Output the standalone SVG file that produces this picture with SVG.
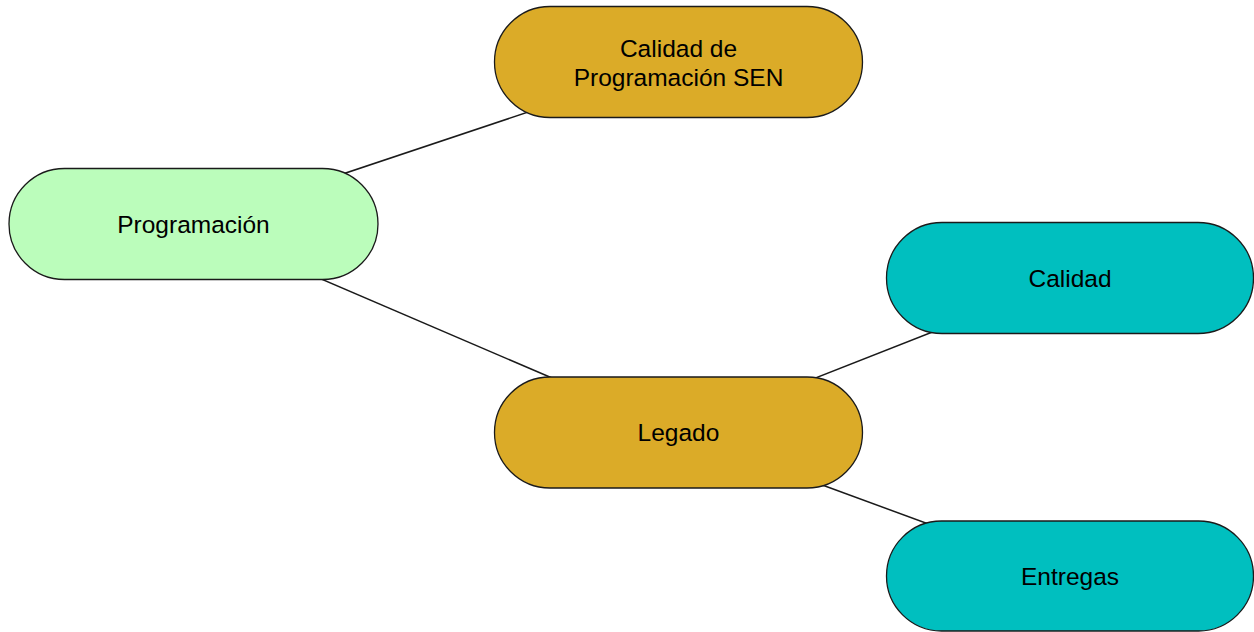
<svg xmlns="http://www.w3.org/2000/svg" width="1254" height="632" viewBox="0 0 1254 632">
<style>
.node rect{stroke:#1a1a1a;stroke-width:1.3}
.green{fill:#bbfdbb}
.gold{fill:#dbab28}
.teal{fill:#00bfbf}
text{font-family:"Liberation Sans",Arial,sans-serif;font-size:24.5px;fill:#000;text-anchor:middle}
.edges line{stroke:#1a1a1a;stroke-width:1.5}
</style>
<rect width="1254" height="632" fill="#fff"/>
<g class="edges" id="connectors">
<line x1="193" y1="224" x2="678" y2="62"/>
<line x1="193" y1="224" x2="678" y2="432"/>
<line x1="678" y1="432" x2="1070" y2="278"/>
<line x1="678" y1="432" x2="1070" y2="576"/>
</g>
<g class="node" id="programacion">
<rect class="green" x="9" y="168.5" width="369" height="111" rx="55.5"/>
<text x="193.5" y="233">Programación</text>
</g>
<g class="node" id="calidad-programacion-sen">
<rect class="gold" x="494.5" y="6.5" width="368" height="111" rx="55.5"/>
<text x="678.5" y="57">Calidad de</text>
<text x="678.5" y="86">Programación SEN</text>
</g>
<g class="node" id="legado">
<rect class="gold" x="494.5" y="377" width="368" height="111" rx="55.5"/>
<text x="678.5" y="441">Legado</text>
</g>
<g class="node" id="calidad">
<rect class="teal" x="886.5" y="222.5" width="367" height="111" rx="55.5"/>
<text x="1070" y="287">Calidad</text>
</g>
<g class="node" id="entregas">
<rect class="teal" x="886.5" y="521" width="367" height="110" rx="55"/>
<text x="1070" y="585">Entregas</text>
</g>
</svg>
